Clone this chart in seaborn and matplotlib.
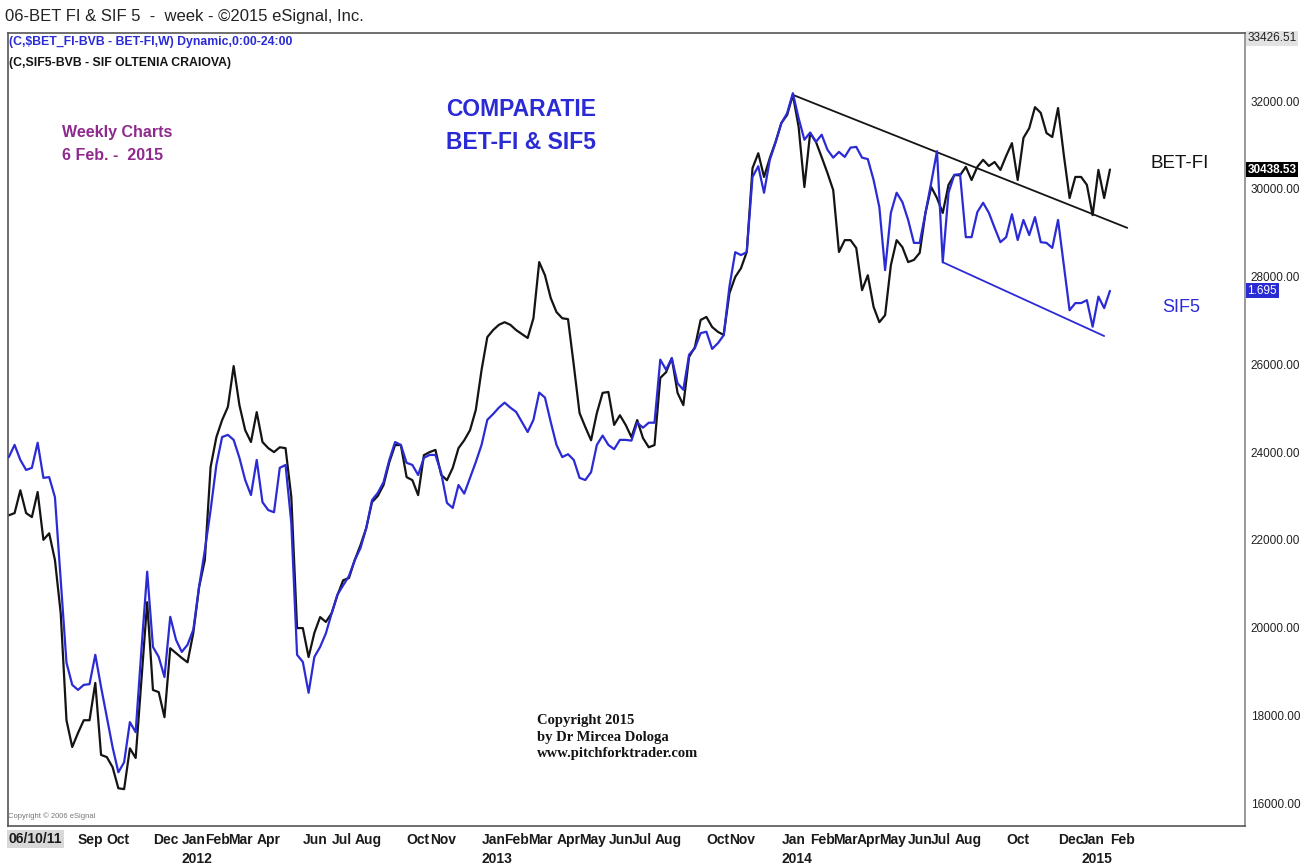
import pandas as pd
import seaborn as sns
import matplotlib.pyplot as plt
import matplotlib.transforms as mtransforms
from matplotlib.ticker import FuncFormatter

# weekly closes, 10 Jun 2011 .. 6 Feb 2015
dates = pd.date_range("2011-06-10", periods=192, freq="W-FRI")

bet_fi = [
    22560, 22610, 23130, 22610, 22520, 23090, 22000, 22150, 21540, 20330,
    17890, 17280, 17600, 17890, 17890, 18740, 17100, 17050, 16820, 16340,
    16320, 17250, 17030, 18800, 20580, 18580, 18530, 17960, 19530, 19420,
    19310, 19210, 19880, 20920, 21540, 23660, 24340, 24730, 25030, 25960,
    25070, 24500, 24230, 24910, 24230, 24090, 24000, 24110, 24090, 22980,
    19990, 19990, 19330, 19880, 20240, 20130, 20330, 20740, 21080, 21130,
    21540, 21880, 22270, 22860, 23000, 23250, 23770, 24160, 24160, 23430,
    23360, 23020, 23930, 24000, 24050, 23480, 23360, 23640, 24090, 24270,
    24500, 24960, 25870, 26620, 26780, 26900, 26960, 26900, 26780, 26690,
    26600, 27050, 28330, 28030, 27510, 27190, 27050, 27030, 25980, 24890,
    24570, 24270, 24890, 25350, 25370, 24620, 24840, 24620, 24340, 24730,
    24320, 24110, 24160, 25690, 25820, 26140, 25350, 25070, 26170, 26390,
    27010, 27080, 26850, 26740, 26670, 27620, 27990, 28190, 28560, 30470,
    30810, 30270, 30700, 31070, 31500, 31680, 32140, 31410, 30040, 31270,
    31070, 30720, 30360, 29970, 28560, 28830, 28830, 28650, 27690, 28030,
    27310, 26960, 27120, 28260, 28830, 28670, 28330, 28380, 28540, 29450,
    30040, 29790, 29450, 30090, 30310, 30310, 30500, 30200, 30500, 30660,
    30520, 30610, 30430, 30750, 31040, 30200, 31160, 31380, 31860, 31730,
    31270, 31180, 31840, 30770, 29790, 30270, 30270, 30090, 29400, 30430,
    29790, 30438.53,
]

sif5 = [
    1.463, 1.480, 1.459, 1.445, 1.448, 1.483, 1.434, 1.435, 1.407, 1.291,
    1.176, 1.145, 1.138, 1.145, 1.146, 1.187, 1.142, 1.100, 1.058, 1.023,
    1.037, 1.093, 1.079, 1.194, 1.303, 1.198, 1.184, 1.156, 1.240, 1.208,
    1.191, 1.201, 1.222, 1.282, 1.333, 1.389, 1.452, 1.491, 1.494, 1.487,
    1.462, 1.431, 1.410, 1.459, 1.400, 1.389, 1.386, 1.448, 1.452, 1.371,
    1.187, 1.177, 1.134, 1.184, 1.198, 1.217, 1.245, 1.271, 1.284, 1.297,
    1.319, 1.336, 1.364, 1.403, 1.413, 1.428, 1.459, 1.484, 1.480, 1.455,
    1.452, 1.438, 1.462, 1.466, 1.466, 1.441, 1.399, 1.392, 1.424, 1.412,
    1.434, 1.456, 1.480, 1.515, 1.523, 1.532, 1.539, 1.532, 1.526, 1.512,
    1.498, 1.515, 1.553, 1.546, 1.512, 1.480, 1.463, 1.467, 1.459, 1.434,
    1.431, 1.442, 1.480, 1.493, 1.480, 1.474, 1.487, 1.487, 1.486, 1.511,
    1.504, 1.511, 1.511, 1.599, 1.585, 1.601, 1.566, 1.557, 1.606, 1.615,
    1.636, 1.638, 1.614, 1.622, 1.633, 1.701, 1.749, 1.745, 1.749, 1.854,
    1.869, 1.832, 1.878, 1.902, 1.929, 1.943, 1.971, 1.936, 1.906, 1.916,
    1.903, 1.913, 1.892, 1.881, 1.889, 1.882, 1.895, 1.896, 1.881, 1.879,
    1.850, 1.812, 1.724, 1.804, 1.832, 1.819, 1.794, 1.762, 1.762, 1.804,
    1.846, 1.890, 1.735, 1.832, 1.857, 1.858, 1.770, 1.770, 1.805, 1.818,
    1.804, 1.783, 1.763, 1.770, 1.802, 1.766, 1.794, 1.773, 1.798, 1.763,
    1.762, 1.755, 1.794, 1.731, 1.668, 1.678, 1.678, 1.682, 1.645, 1.687,
    1.671, 1.695,
]

# hand-drawn trend lines
bet_trend_dates = ["2014-01-17", "2015-02-27"]
bet_trend = [32140, 29110]
sif_trend_dates = ["2014-07-18", "2015-01-30"]
sif_trend = [1.735, 1.632]

month_ticks = [
    "2011-09", "2011-10", "2011-12", "2012-01", "2012-02", "2012-03", "2012-04",
    "2012-06", "2012-07", "2012-08", "2012-10", "2012-11", "2013-01", "2013-02",
    "2013-03", "2013-04", "2013-05", "2013-06", "2013-07", "2013-08", "2013-10",
    "2013-11", "2014-01", "2014-02", "2014-03", "2014-04", "2014-05", "2014-06",
    "2014-07", "2014-08", "2014-10", "2014-12", "2015-01", "2015-02",
]
year_ticks = ["2012-01", "2013-01", "2014-01", "2015-01"]
price_ticks = list(range(16000, 33000, 2000))

BLACK = "#141414"
BLUE = "#2b2bd6"
SANS = ["Liberation Sans", "DejaVu Sans"]

sns.set_style("white")
plt.rcParams["font.family"] = SANS

W, H = 1308, 868
fig = plt.figure(figsize=(W / 100, H / 100), dpi=100)
ax = fig.add_axes([8 / W, (H - 826) / H, (1245 - 8) / W, (826 - 33) / H])

sns.lineplot(x=dates, y=bet_fi, ax=ax, color=BLACK, lw=1.6)
sns.lineplot(x=pd.to_datetime(bet_trend_dates), y=bet_trend, ax=ax,
             color=BLACK, lw=1.3)
ax.set_ylim(15480, 33550)
ax.set_xlim(dates[0] - pd.Timedelta(days=1), dates[-1] + pd.Timedelta(days=164))

ax2 = ax.twinx()
sns.lineplot(x=dates, y=sif5, ax=ax2, color=BLUE, lw=1.6)
sns.lineplot(x=pd.to_datetime(sif_trend_dates), y=sif_trend, ax=ax2,
             color=BLUE, lw=1.3)
ax2.set_ylim(0.948, 2.055)
ax2.set_yticks([])
ax2.set_ylabel("")
for s in ax2.spines.values():
    s.set_visible(False)

# right price scale
ax.yaxis.tick_right()
ax.set_yticks(price_ticks)
ax.yaxis.set_major_formatter(FuncFormatter(lambda v, _: f"{v:.2f}"))
ax.tick_params(axis="y", length=0, pad=4, labelsize=8.5, labelcolor="#222222")

# month axis
periods = dates.to_period("M")
tick_pos = [dates[periods == pd.Period(m)][0] for m in month_ticks]
ax.set_xticks(tick_pos)
ax.set_xticklabels([d.strftime("%b") for d in tick_pos], ha="left",
                   fontweight="bold")
ax.tick_params(axis="x", length=0, pad=5, labelsize=10, labelcolor="#1a1a1a")
ax.set_xlabel("")
ax.set_ylabel("")
for s in ax.spines.values():
    s.set_color("#555555")
    s.set_linewidth(1.2)
ax.spines["right"].set_color("#888888")

bx = mtransforms.blended_transform_factory(ax.transData, ax.transAxes)
for m in year_ticks:
    d = dates[periods == pd.Period(m)][0]
    ax.text(d, -0.041, m[:4], transform=bx, ha="left", va="center",
            fontsize=10, fontweight="bold", color="#1a1a1a")
ax.text(dates[0], -0.016, dates[0].strftime("%m/%d/%y"), transform=bx,
        ha="left", va="center", fontsize=10, fontweight="bold", color="#1a1a1a",
        bbox=dict(boxstyle="square,pad=0.15", fc="#d8d8d8", ec="none"))

# value flags on the price scale
by = mtransforms.blended_transform_factory(ax.transAxes, ax.transData)
ax.text(1.002, 33426.51, "33426.51", transform=by, ha="left", va="center",
        fontsize=8.5, color="#222222",
        bbox=dict(boxstyle="square,pad=0.12", fc="#e2e2e2", ec="none"))
ax.text(1.002, bet_fi[-1], f"{bet_fi[-1]:.2f}", transform=by, ha="left",
        va="center", fontsize=8.5, color="white", fontweight="bold",
        bbox=dict(boxstyle="square,pad=0.12", fc="black", ec="none"))
by2 = mtransforms.blended_transform_factory(ax2.transAxes, ax2.transData)
ax2.text(1.002, sif5[-1], f"{sif5[-1]:.3f}", transform=by2, ha="left",
         va="center", fontsize=8.5, color="white",
         bbox=dict(boxstyle="square,pad=0.12", fc=BLUE, ec="none"))

# annotations
def px(x, y):
    return x / W, 1 - y / H

fig.text(*px(5, 17), "06-BET FI & SIF 5  -  week - \u00a92015 eSignal, Inc.",
         fontsize=12, color="#222222", va="center", ha="left")
fig.text(*px(9, 42), "(C,$BET_FI-BVB - BET-FI,W) Dynamic,0:00-24:00",
         fontsize=8.8, fontweight="bold", color=BLUE, va="center", ha="left")
fig.text(*px(9, 63), "(C,SIF5-BVB - SIF OLTENIA CRAIOVA)",
         fontsize=8.8, fontweight="bold", color=BLACK, va="center", ha="left")
fig.text(*px(62, 144), "Weekly Charts\n6 Feb. -  2015", fontsize=11.5,
         fontweight="bold", color="#8e2a8e", va="center", ha="left",
         linespacing=1.7)
fig.text(*px(446, 126), "COMPARATIE\nBET-FI & SIF5", fontsize=16.5,
         fontweight="bold", color=BLUE, va="center", ha="left",
         linespacing=1.6)
fig.text(*px(1150, 163), "BET-FI", fontsize=13.5, color=BLACK,
         va="center", ha="left")
fig.text(*px(1162, 308), "SIF5", fontsize=13, color=BLUE,
         va="center", ha="left")
fig.text(*px(537, 737), "Copyright 2015\nby Dr Mircea Dologa\nwww.pitchforktrader.com",
         fontsize=10.5, fontweight="bold", family="Liberation Serif",
         color=BLACK, va="center", ha="left", linespacing=1.35)
fig.text(*px(8, 816), "Copyright \u00a9 2006 eSignal", fontsize=5.5,
         color="#777777", va="center", ha="left")

fig.savefig("out.png", dpi=100, facecolor="white")
